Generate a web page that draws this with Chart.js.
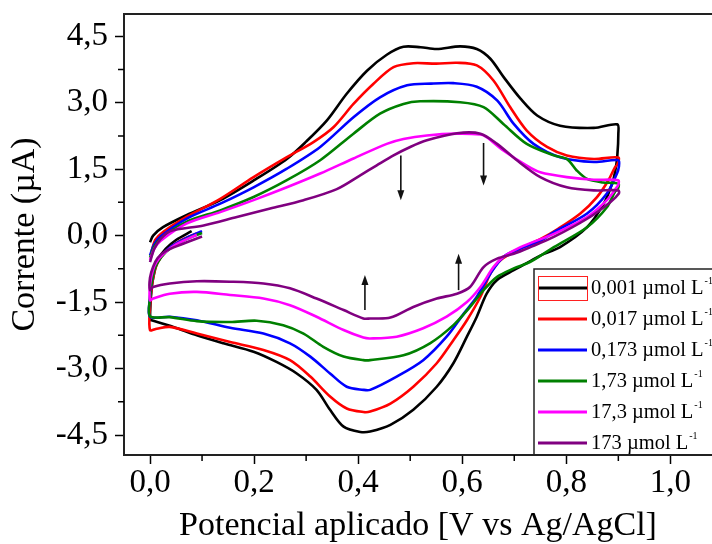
<!DOCTYPE html>
<html>
<head>
<meta charset="utf-8">
<script src="https://cdn.jsdelivr.net/npm/chart.js@4.4.0/dist/chart.umd.min.js"></script>
<style>
  html, body { margin: 0; padding: 0; background: #fff; overflow: hidden; }
</style>
</head>
<body>
<canvas id="cv" width="712" height="544"></canvas>
<script>
// voltamogramas ciclicos, pares [potencial (V), corrente (uA)] na ordem da varredura
const cv0001 = [[0.000,-0.15],[0.006,0.00],[0.025,0.19],[0.07,0.46],[0.135,0.80],[0.20,1.25],[0.263,1.73],[0.30,2.12],[0.34,2.60],[0.378,3.20],[0.417,3.72],[0.455,4.08],[0.487,4.26],[0.52,4.25],[0.551,4.21],[0.596,4.27],[0.628,4.21],[0.654,3.99],[0.68,3.57],[0.712,3.09],[0.744,2.71],[0.788,2.48],[0.853,2.43],[0.898,2.51],
  [0.900,2.30],[0.898,1.80],[0.894,1.45],[0.888,1.17],[0.872,0.72],[0.84,0.19],[0.788,-0.26],[0.75,-0.45],[0.73,-0.58],[0.699,-0.78],[0.667,-1.00],[0.647,-1.31],[0.628,-1.83],[0.609,-2.28],[0.583,-2.88],[0.551,-3.41],[0.506,-3.93],[0.462,-4.27],[0.423,-4.42],[0.404,-4.43],[0.372,-4.31],[0.346,-3.93],[0.32,-3.48],[0.282,-3.11],[0.243,-2.85],[0.199,-2.62],[0.141,-2.43],[0.09,-2.25],[0.045,-2.06],[0.003,-1.91],
  [0.0,-1.9],[0.003,-1.2],[0.008,-0.85],[0.015,-0.55],[0.03,-0.3],[0.05,-0.1],[0.08,0.1]];
const cv0017 = [[0.003,-0.35],[0.01,-0.1],[0.025,0.08],[0.07,0.42],[0.135,0.83],[0.199,1.32],[0.263,1.77],[0.314,2.11],[0.353,2.45],[0.391,2.97],[0.429,3.42],[0.468,3.80],[0.506,3.89],[0.55,3.88],[0.59,3.90],[0.628,3.84],[0.66,3.50],[0.692,2.90],[0.724,2.37],[0.763,2.00],[0.801,1.81],[0.853,1.73],[0.900,1.76],
  [0.898,1.60],[0.894,1.55],[0.881,1.25],[0.859,0.87],[0.827,0.50],[0.785,0.16],[0.75,-0.08],[0.712,-0.29],[0.673,-0.56],[0.654,-0.86],[0.635,-1.38],[0.609,-1.91],[0.583,-2.36],[0.551,-2.88],[0.506,-3.41],[0.462,-3.79],[0.423,-3.97],[0.41,-3.98],[0.378,-3.90],[0.346,-3.63],[0.308,-3.18],[0.269,-2.81],[0.218,-2.58],[0.154,-2.40],[0.09,-2.21],[0.038,-2.06],[0.013,-2.10],[0.0,-2.13],
  [0.0,-1.6],[0.004,-1.1],[0.01,-0.75],[0.02,-0.5],[0.035,-0.3],[0.06,-0.1],[0.09,0.05]];
const cv0173 = [[0.0,-0.45],[0.008,-0.2],[0.02,-0.02],[0.07,0.38],[0.135,0.72],[0.199,1.09],[0.263,1.51],[0.327,2.00],[0.391,2.67],[0.442,3.12],[0.494,3.39],[0.54,3.43],[0.583,3.44],[0.628,3.36],[0.667,3.05],[0.699,2.52],[0.737,2.07],[0.788,1.77],[0.853,1.66],[0.900,1.70],
  [0.901,1.55],[0.897,1.39],[0.878,0.95],[0.84,0.50],[0.776,0.08],[0.75,-0.12],[0.712,-0.29],[0.679,-0.48],[0.654,-0.86],[0.628,-1.38],[0.603,-1.76],[0.57,-2.28],[0.525,-2.81],[0.474,-3.18],[0.423,-3.48],[0.41,-3.48],[0.378,-3.41],[0.346,-3.11],[0.308,-2.73],[0.269,-2.43],[0.218,-2.21],[0.154,-2.08],[0.09,-1.91],[0.038,-1.83],[0.0,-1.83],
  [0.0,-1.4],[0.004,-1.0],[0.01,-0.7],[0.022,-0.45],[0.04,-0.25],[0.07,-0.05],[0.1,0.1]];
const cv173 = [[0.0,-0.5],[0.008,-0.25],[0.02,-0.07],[0.07,0.31],[0.135,0.57],[0.199,0.87],[0.263,1.25],[0.327,1.70],[0.391,2.30],[0.442,2.75],[0.487,2.97],[0.519,3.03],[0.596,3.01],[0.641,2.90],[0.679,2.52],[0.724,2.07],[0.776,1.81],[0.801,1.73],[0.82,1.47],[0.84,1.28],[0.87,1.20],[0.9,1.17],
  [0.899,1.05],[0.894,1.00],[0.878,0.64],[0.84,0.19],[0.776,-0.26],[0.731,-0.59],[0.699,-0.74],[0.667,-0.93],[0.641,-1.23],[0.615,-1.61],[0.583,-2.02],[0.538,-2.43],[0.487,-2.70],[0.423,-2.81],[0.41,-2.81],[0.372,-2.73],[0.333,-2.51],[0.295,-2.21],[0.256,-2.02],[0.205,-1.92],[0.154,-1.95],[0.09,-1.93],[0.038,-1.84],[0.0,-1.82],
  [0.0,-1.4],[0.004,-1.0],[0.01,-0.72],[0.022,-0.48],[0.04,-0.28],[0.07,-0.08],[0.1,0.06]];
const cv17_3 = [[0.0,-0.55],[0.008,-0.3],[0.02,-0.12],[0.07,0.27],[0.135,0.53],[0.199,0.80],[0.263,1.09],[0.327,1.40],[0.391,1.74],[0.455,2.07],[0.487,2.18],[0.532,2.26],[0.59,2.30],[0.635,2.28],[0.647,2.22],[0.679,1.92],[0.724,1.58],[0.75,1.43],[0.801,1.32],[0.853,1.26],[0.9,1.25],
  [0.900,1.15],[0.897,1.09],[0.878,0.80],[0.84,0.42],[0.776,0.04],[0.712,-0.26],[0.679,-0.48],[0.66,-0.71],[0.635,-1.16],[0.609,-1.50],[0.57,-1.83],[0.525,-2.09],[0.474,-2.28],[0.423,-2.32],[0.41,-2.30],[0.372,-2.13],[0.32,-1.83],[0.269,-1.57],[0.218,-1.42],[0.154,-1.34],[0.09,-1.27],[0.038,-1.31],[0.006,-1.42],[0.0,-1.46],
  [0.0,-1.1],[0.005,-0.8],[0.012,-0.6],[0.025,-0.42],[0.05,-0.2],[0.09,0.02]];
const cv173_ = [[0.0,-0.6],[0.008,-0.3],[0.02,-0.08],[0.038,0.10],[0.103,0.23],[0.167,0.42],[0.231,0.61],[0.295,0.80],[0.359,1.05],[0.404,1.36],[0.435,1.58],[0.468,1.81],[0.50,2.00],[0.532,2.15],[0.59,2.31],[0.635,2.30],[0.667,2.07],[0.705,1.70],[0.75,1.32],[0.801,1.09],[0.853,1.02],[0.9,1.02],
  [0.901,0.95],[0.885,0.76],[0.84,0.38],[0.776,-0.03],[0.731,-0.26],[0.699,-0.41],[0.667,-0.52],[0.641,-0.71],[0.615,-1.16],[0.59,-1.31],[0.551,-1.42],[0.506,-1.61],[0.462,-1.85],[0.423,-1.87],[0.41,-1.87],[0.372,-1.68],[0.32,-1.42],[0.269,-1.19],[0.218,-1.08],[0.154,-1.04],[0.09,-1.03],[0.038,-1.08],[0.006,-1.16],[0.0,-1.23],
  [0.0,-0.95],[0.006,-0.7],[0.015,-0.5],[0.03,-0.35],[0.06,-0.2],[0.1,-0.02]];

const seriesData = [cv0001, cv0017, cv0173, cv173, cv17_3, cv173_];
const seriesLabels = ['0,001 µmol L', '0,017 µmol L', '0,173 µmol L', '1,73 µmol L', '17,3 µmol L', '173 µmol L'];
const seriesColors = ['#000000', '#ff0000', '#0000ff', '#008000', '#ff00ff', '#800080'];

const xTicks = [0, 0.1, 0.2, 0.3, 0.4, 0.5, 0.6, 0.7, 0.8, 0.9, 1.0];
const xTickLabels = ['0,0', '', '0,2', '', '0,4', '', '0,6', '', '0,8', '', '1,0'];
const yTicks = [-4.5, -3.75, -3, -2.25, -1.5, -0.75, 0, 0.75, 1.5, 2.25, 3, 3.75, 4.5];
const yTickLabels = ['-4,5', '', '-3,0', '', '-1,5', '', '0,0', '', '1,5', '', '3,0', '', '4,5'];

// setas indicando o aumento da concentracao
const arrowX = [0.482, 0.641, 0.413, 0.593];
const arrowFrom = [1.81, 2.09, -1.68, -1.23];
const arrowTo = [0.80, 1.13, -0.89, -0.41];

const serif = '"Liberation Serif", "Times New Roman", serif';

const datasets = seriesData.map((pts, i) => ({
  label: seriesLabels[i],
  data: pts.map(p => ({ x: p[0], y: p[1] })),
  showLine: true,
  borderColor: seriesColors[i],
  backgroundColor: seriesColors[i],
  borderWidth: 2.6,
  pointRadius: 0,
  tension: 0.3,
  order: seriesData.length - i
}));

// marcas menores ficam mais curtas que as principais
const minorTick = (labels) => (c) => (labels[c.index] ? '#000' : 'rgba(0,0,0,0)');

const extras = {
  id: 'extras',
  afterDraw(chart) {
    const { ctx, chartArea: a, scales } = chart;
    ctx.save();
    // borda superior
    ctx.strokeStyle = '#222';
    ctx.lineWidth = 2;
    ctx.beginPath();
    ctx.moveTo(a.left, a.top);
    ctx.lineTo(a.right + 2, a.top);
    ctx.stroke();

    // marcas menores
    ctx.strokeStyle = '#000';
    ctx.lineWidth = 1.5;
    ctx.beginPath();
    xTicks.forEach((v, i) => {
      if (xTickLabels[i]) return;
      const px = scales.x.getPixelForValue(v);
      ctx.moveTo(px, a.bottom);
      ctx.lineTo(px, a.bottom + 6);
    });
    yTicks.forEach((v, i) => {
      if (yTickLabels[i]) return;
      const py = scales.y.getPixelForValue(v);
      ctx.moveTo(a.left, py);
      ctx.lineTo(a.left - 6, py);
    });
    ctx.stroke();

    // setas
    ctx.strokeStyle = '#111';
    ctx.fillStyle = '#111';
    ctx.lineWidth = 1.6;
    arrowX.forEach((xv, i) => {
      const px = scales.x.getPixelForValue(xv);
      const p0 = scales.y.getPixelForValue(arrowFrom[i]);
      const p1 = scales.y.getPixelForValue(arrowTo[i]);
      const dir = p1 > p0 ? 1 : -1;
      ctx.beginPath();
      ctx.moveTo(px, p0);
      ctx.lineTo(px, p1 - dir * 6);
      ctx.stroke();
      ctx.beginPath();
      ctx.moveTo(px, p1);
      ctx.lineTo(px - 3.5, p1 - dir * 10);
      ctx.lineTo(px + 3.5, p1 - dir * 10);
      ctx.closePath();
      ctx.fill();
    });

    // legenda
    const bx = a.left + 410, by = a.top + 255;
    ctx.strokeStyle = '#222';
    ctx.lineWidth = 1.5;
    ctx.strokeRect(bx, by, a.right - bx + 10, a.bottom - by);
    seriesLabels.forEach((txt, i) => {
      const ry = by + 19 + i * 31;
      ctx.strokeStyle = seriesColors[i];
      ctx.lineWidth = 3;
      ctx.beginPath();
      ctx.moveTo(bx + 4, ry);
      ctx.lineTo(bx + 53, ry);
      ctx.stroke();
      if (i === 0) {
        ctx.strokeStyle = '#ff2020';
        ctx.lineWidth = 1;
        ctx.strokeRect(bx + 4.5, ry - 11.5, 49, 24);
      }
      ctx.fillStyle = '#000';
      ctx.font = '20.5px ' + serif;
      ctx.textBaseline = 'middle';
      ctx.textAlign = 'left';
      ctx.fillText(txt, bx + 57, ry + 1);
      const w = ctx.measureText(txt).width;
      ctx.font = '10px ' + serif;
      ctx.fillText('-1', bx + 57 + w + 1, ry - 7);
    });
    ctx.restore();
  }
};

new Chart(document.getElementById('cv'), {
  type: 'scatter',
  data: { datasets },
  options: {
    responsive: false,
    animation: false,
    devicePixelRatio: 1,
    layout: { padding: { top: 14, left: 0, right: 0, bottom: 0 } },
    plugins: { legend: { display: false }, tooltip: { enabled: false } },
    scales: {
      x: {
        type: 'linear',
        min: -0.05,
        max: 1.08,
        afterBuildTicks: s => { s.ticks = xTicks.map(v => ({ value: v })); },
        afterFit: s => { s.height = 89; s.paddingLeft = 0; s.paddingRight = 0; },
        ticks: {
          callback: (v, i) => xTickLabels[i],
          font: { family: serif, size: 33 },
          color: '#000',
          padding: 0,
          maxRotation: 0,
          autoSkip: false
        },
        grid: { drawOnChartArea: false, tickLength: 9, tickWidth: 1.5, tickColor: minorTick(xTickLabels) },
        border: { color: '#222', width: 2 },
        title: {
          display: true,
          text: 'Potencial aplicado [V vs Ag/AgCl]',
          font: { family: serif, size: 34, lineHeight: 1 },
          color: '#000',
          padding: { top: 0, bottom: 1 }
        }
      },
      y: {
        type: 'linear',
        min: -4.95,
        max: 5.0,
        afterBuildTicks: s => { s.ticks = yTicks.map(v => ({ value: v })); },
        afterFit: s => { s.width = 124; s.paddingTop = 0; s.paddingBottom = 0; },
        ticks: {
          callback: (v, i) => yTickLabels[i],
          font: { family: serif, size: 33 },
          color: '#000',
          padding: 7,
          autoSkip: false
        },
        grid: { drawOnChartArea: false, tickLength: 9, tickWidth: 1.5, tickColor: minorTick(yTickLabels) },
        border: { color: '#222', width: 2 },
        title: {
          display: true,
          text: 'Corrente (µA)',
          font: { family: serif, size: 34, lineHeight: 1 },
          color: '#000',
          padding: { top: 8, bottom: 0 }
        }
      }
    }
  },
  plugins: [extras]
});
</script>
</body>
</html>
